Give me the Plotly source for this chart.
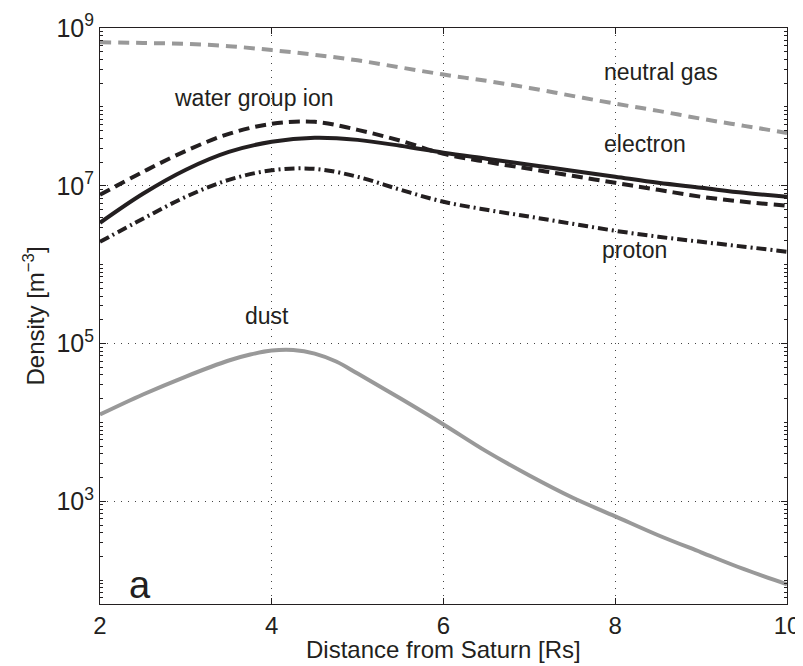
import plotly.graph_objects as go

# Distance from Saturn [Rs]
distance = [2.0, 2.5, 3.0, 3.5, 4.0, 4.5, 5.0, 5.5, 6.0, 6.5, 7.0, 7.5, 8.0, 8.5, 9.0, 9.5, 10.0]

# Densities [m^-3]
neutral_gas = [6.61e8, 6.46e8, 6.31e8, 5.89e8, 5.25e8, 4.57e8, 3.89e8, 3.16e8, 2.57e8,
               2.14e8, 1.74e8, 1.38e8, 1.10e8, 8.91e7, 7.08e7, 5.75e7, 4.68e7]
electron = [3.40e6, 7.93e6, 1.60e7, 2.69e7, 3.61e7, 4.06e7, 3.82e7, 3.21e7, 2.62e7,
            2.20e7, 1.85e7, 1.55e7, 1.30e7, 1.09e7, 9.44e6, 8.15e6, 7.26e6]
water_group_ion = [7.69e6, 1.50e7, 2.77e7, 4.55e7, 6.10e7, 6.46e7, 5.12e7, 3.72e7, 2.54e7,
                   2.01e7, 1.64e7, 1.34e7, 1.09e7, 8.89e6, 7.26e6, 6.27e6, 5.58e6]
proton = [1.95e6, 3.82e6, 7.26e6, 1.19e7, 1.57e7, 1.64e7, 1.30e7, 8.89e6, 6.27e6,
          4.97e6, 4.06e6, 3.30e6, 2.69e6, 2.26e6, 1.95e6, 1.69e6, 1.46e6]

# Dust is sampled more finely around its peak
dust_distance = [2.0, 2.5, 3.0, 3.5, 3.75, 4.0, 4.25, 4.5, 4.75, 5.0, 5.5, 6.0, 6.5,
                 7.0, 7.5, 8.0, 8.5, 9.0, 9.5, 10.0]
dust = [1.26e4, 2.26e4, 3.82e4, 6.10e4, 7.26e4, 8.15e4, 8.28e4, 7.46e4, 5.92e4, 4.17e4,
        2.01e4, 9.44e3, 4.30e3, 2.13e3, 1.12e3, 646, 372, 226, 138, 89]

y_tickvals = [1e3, 1e5, 1e7, 1e9]
y_ticktext = ["10<sup>3</sup>", "10<sup>5</sup>", "10<sup>7</sup>", "10<sup>9</sup>"]
x_tickvals = [2, 4, 6, 8, 10]

FONT = "Liberation Sans, Arial, Helvetica, sans-serif"
INK = "#231f20"
GRAY = "#999999"

fig = go.Figure()
fig.add_trace(go.Scatter(x=distance, y=neutral_gas, mode="lines", line_shape="spline",
                         line=dict(color=GRAY, width=4, dash="11px,7px")))
fig.add_trace(go.Scatter(x=distance, y=water_group_ion, mode="lines", line_shape="spline",
                         line=dict(color=INK, width=4, dash="11px,6px")))
fig.add_trace(go.Scatter(x=distance, y=electron, mode="lines", line_shape="spline",
                         line=dict(color=INK, width=4)))
fig.add_trace(go.Scatter(x=distance, y=proton, mode="lines", line_shape="spline",
                         line=dict(color=INK, width=4, dash="10px,4px,2px,4px")))
fig.add_trace(go.Scatter(x=dust_distance, y=dust, mode="lines", line_shape="spline",
                         line=dict(color=GRAY, width=4)))

minor_vals = [k * 10 ** e for e in range(1, 9) for k in range(2, 10)] + [1e2, 1e4, 1e6, 1e8]

fig.update_xaxes(range=[2, 10], tickvals=x_tickvals, ticks="inside", ticklen=6,
                 tickcolor=INK, showline=True, linecolor=INK, linewidth=1, mirror="ticks",
                 showgrid=True, gridcolor="#444444", gridwidth=1, griddash="1px,6px",
                 zeroline=False, automargin=False,
                 tickfont=dict(family=FONT, size=24, color=INK))
fig.update_yaxes(type="log", range=[1.699, 9], tickvals=y_tickvals, ticktext=y_ticktext,
                 ticks="inside", ticklen=6, tickcolor=INK, showline=True, linecolor=INK,
                 linewidth=1, mirror="ticks", showgrid=True, gridcolor="#444444",
                 gridwidth=1, griddash="1px,6px", zeroline=False, automargin=False,
                 tickfont=dict(family=FONT, size=25, color=INK),
                 minor=dict(tickvals=minor_vals, ticks="inside", ticklen=3,
                            tickcolor=INK, showgrid=False))

ann_font = dict(family=FONT, size=23, color=INK)
annotations = [
    dict(x=7.85, y=8.44, text="neutral gas"),
    dict(x=2.84, y=8.11, text="water group ion"),
    dict(x=7.85, y=7.53, text="electron"),
    dict(x=7.82, y=6.19, text="proton"),
    dict(x=3.665, y=5.35, text="dust"),
]
for a in annotations:
    fig.add_annotation(x=a["x"], y=a["y"], text=a["text"], showarrow=False,
                       xanchor="left", yanchor="middle", font=ann_font, xref="x", yref="y")
fig.add_annotation(x=2.31, y=1.94, text="a", showarrow=False, xanchor="left",
                   yanchor="middle", font=dict(family=FONT, size=38, color=INK))

fig.add_annotation(text="Distance from Saturn [Rs]", xref="paper", yref="paper",
                   x=0.5, y=-0.052, xanchor="center", yanchor="top", showarrow=False,
                   font=dict(family=FONT, size=24, color=INK))
fig.add_annotation(text="Density [m<sup>\u22123</sup>]", xref="paper", yref="paper",
                   x=-0.072, y=0.5, xanchor="right", yanchor="middle", textangle=-90,
                   showarrow=False, font=dict(family=FONT, size=24, color=INK))

# The page body has an 8px margin, so the figure is sized and offset to compensate.
fig.update_layout(width=795, height=658, margin=dict(l=92, r=16, t=20, b=62),
                  plot_bgcolor="white", paper_bgcolor="white", showlegend=False)

fig.write_html("out.html")
